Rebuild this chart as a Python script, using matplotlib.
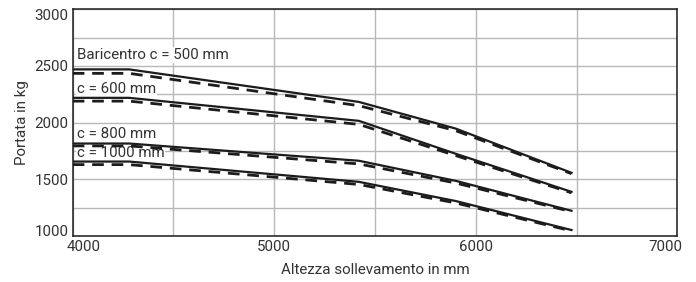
import matplotlib
matplotlib.use('Agg')
import matplotlib.pyplot as plt
import matplotlib.transforms as mtransforms

# lift height (mm) breakpoints and capacity (kg)
x_pts = [4000, 4280, 5420, 5900, 6475]
c500_solid = [2470, 2470, 2183, 1948, 1558]
c500_dash = [2435, 2435, 2150, 1930, 1550]
c600_solid = [2219, 2219, 2016, 1726, 1390]
c600_dash = [2190, 2190, 1985, 1710, 1381]
c800_solid = [1816, 1816, 1664, 1487, 1223]
c800_dash = [1795, 1795, 1636, 1468, 1215]
c1000_solid = [1657, 1657, 1478, 1309, 1053]
c1000_dash = [1630, 1630, 1455, 1292, 1045]

labels = ['Baricentro c = 500 mm', 'c = 600 mm', 'c = 800 mm', 'c = 1000 mm']
label_y = [2597, 2298, 1901, 1733]

xticks = [4000, 5000, 6000, 7000]
yticks = [1000, 1500, 2000, 2500, 3000]

plt.rcParams['font.family'] = ['Roboto', 'DejaVu Sans']
txt = '#333333'
ink = '#1c1c1c'
fs = 10.9

fig = plt.figure(figsize=(6.96, 2.82), dpi=100)
ax = fig.add_axes([0.1045, 0.163, 0.8686, 0.804])

ax.set_xlim(4000, 7000)
ax.set_ylim(1000, 3000)
ax.set_xticks(range(4000, 7001, 500))
ax.set_yticks(range(1000, 3001, 250))
ax.grid(True, color='#b8b8b8', lw=1.0, zorder=0)
ax.set_axisbelow(True)
ax.tick_params(length=0, pad=3, labelsize=fs, colors=txt)
ax.set_xticklabels([str(v) if v in xticks else '' for v in range(4000, 7001, 500)])
ax.set_yticklabels([str(v) if v in yticks else '' for v in range(1000, 3001, 250)])

for s in ax.spines.values():
    s.set_color(ink)
    s.set_linewidth(1.1)

for solid, dash in [(c500_solid, c500_dash), (c600_solid, c600_dash),
                    (c800_solid, c800_dash), (c1000_solid, c1000_dash)]:
    ax.plot(x_pts, dash, color=ink, lw=2.0, dashes=(4.2, 2.8), zorder=3)
    ax.plot(x_pts, solid, color=ink, lw=1.6, zorder=4)

for lab, yy in zip(labels, label_y):
    ax.text(4020, yy, lab, fontsize=fs, color=txt, va='center', ha='left',
            zorder=2.5, bbox=dict(facecolor='white', edgecolor='none', pad=0.5))

# nudge end tick labels inside like the original
xl = [t for t in ax.get_xticklabels() if t.get_text()]
xl[0].set_transform(xl[0].get_transform() + mtransforms.ScaledTranslation(11/100, 0, fig.dpi_scale_trans))
xl[-1].set_transform(xl[-1].get_transform() + mtransforms.ScaledTranslation(-12/100, 0, fig.dpi_scale_trans))
yl = [t for t in ax.get_yticklabels() if t.get_text()]
yl[0].set_va('baseline')
yl[-1].set_va('top')

ax.set_xlabel('Altezza sollevamento in mm', fontsize=fs, color=txt, labelpad=6)
ax.set_ylabel('Portata in kg', fontsize=fs, color=txt, labelpad=4)

fig.savefig('out.png', dpi=100)
